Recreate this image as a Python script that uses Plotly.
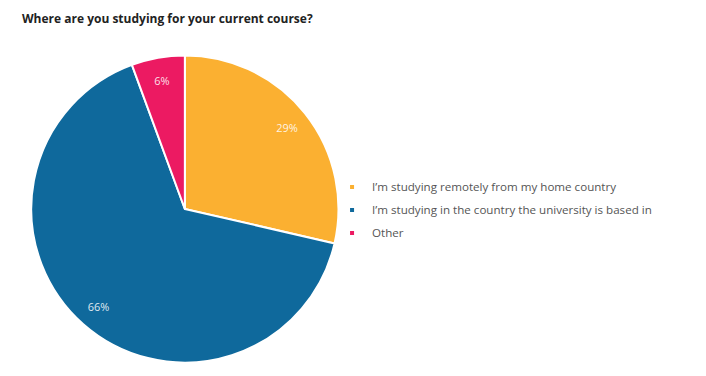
import plotly.graph_objects as go

labels = ["I\u2019m studying remotely from my home country",
          "I\u2019m studying in the country the university is based in",
          "Other"]
values = [28.6, 65.8, 5.6]
pct_text = ["29%", "66%", "6%"]
colors = ["#FBB031", "#0F699C", "#EC1A62"]

dom = dict(x=[0.031, 0.470], y=[0.057, 0.874])

fig = go.Figure()
fig.add_trace(go.Pie(
    labels=labels, values=values, text=pct_text,
    textinfo="none",
    sort=False, direction="clockwise", rotation=0,
    marker=dict(colors=colors, line=dict(color="white", width=2)),
    showlegend=False, hoverinfo="label+text",
    domain=dom,
))
# transparent ring overlay used only to place the percentage labels further out
fig.add_trace(go.Pie(
    labels=labels, values=values, text=pct_text,
    textinfo="text", textposition="inside", insidetextorientation="horizontal",
    sort=False, direction="clockwise", rotation=0, hole=0.70,
    marker=dict(colors=["rgba(0,0,0,0)"] * 3, line=dict(width=0)),
    textfont=dict(family="Open Sans", size=11, color="rgba(255,255,255,0.88)"),
    showlegend=False, hoverinfo="skip",
    domain=dom,
))
for i, (lab, col) in enumerate(zip(labels, colors)):
    fig.add_trace(go.Scatter(x=[None], y=[None], mode="markers", name=lab,
                             legendgroup=f"g{i}",
                             marker=dict(symbol="square", size=4, color=col),
                             showlegend=True))

fig.update_layout(
    width=706, height=376,
    margin=dict(l=0, r=0, t=0, b=0),
    paper_bgcolor="white", plot_bgcolor="white",
    title=dict(text="<b>Where are you studying for your current course?</b>",
               x=14/706, xanchor="left", y=1-11/376, yanchor="middle",
               pad=dict(l=0, r=0, t=0, b=0),
               font=dict(family="Open Sans", size=12, color="#222")),
    xaxis=dict(visible=False), yaxis=dict(visible=False),
    legend=dict(x=0.459, y=0.463, xanchor="left", yanchor="middle",
                bgcolor="rgba(0,0,0,0)",
                font=dict(family="Open Sans", size=11.6, color="#555"),
                tracegroupgap=4, itemsizing="trace"),
)
fig.write_html("out.html")
